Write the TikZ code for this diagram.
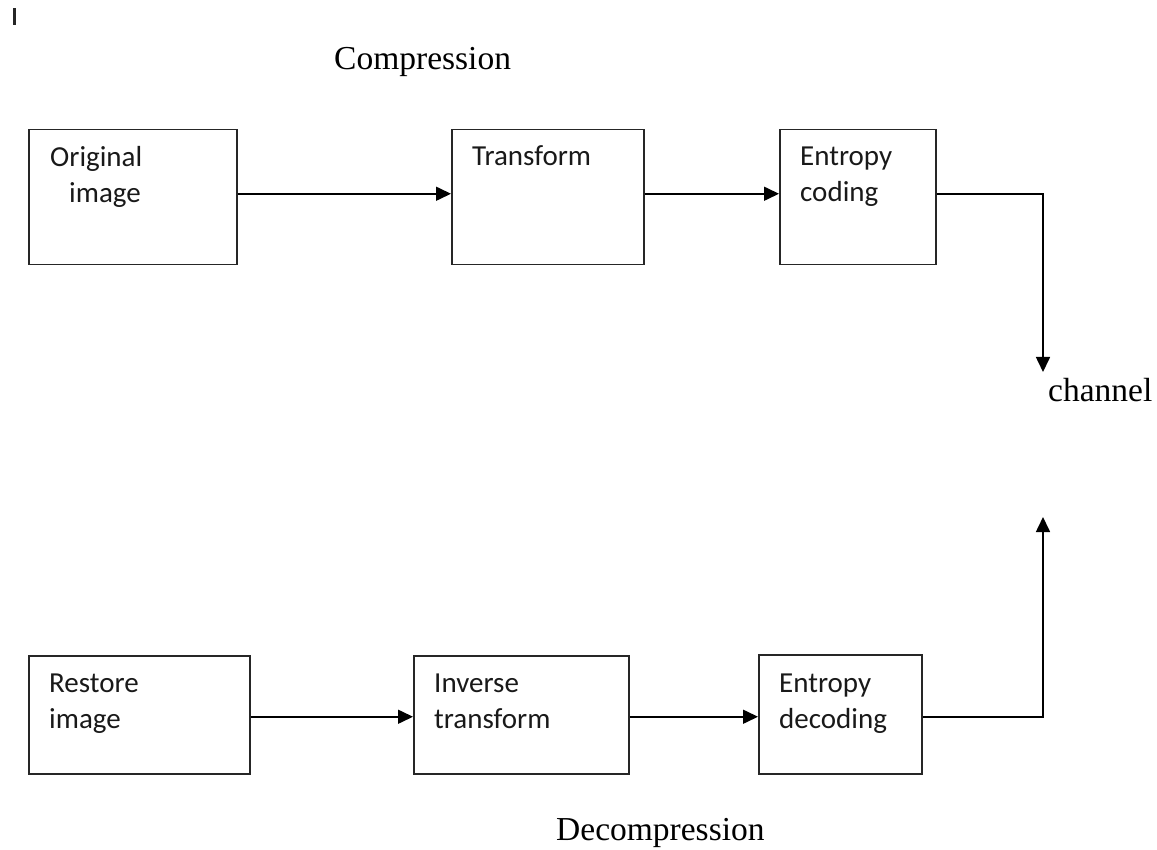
\documentclass[tikz,border=0pt]{standalone}
\usepackage{fontspec}
\setmainfont{Liberation Serif}
\newfontfamily\boxfont{Carlito}
\usetikzlibrary{arrows.meta}

\tikzset{
  blockbox/.style={draw=black!85, line width=1.5pt, minimum width=#1, inner sep=0pt, anchor=north west},
  boxtext/.style={anchor=base west, inner sep=0pt, font=\boxfont\fontsize{29}{36}\selectfont, text=black!90},
  title/.style={anchor=base west, inner sep=0pt, font=\fontsize{33.5}{40}\selectfont},
  flow/.style={draw=black, line width=1.6pt, -{Triangle[length=15pt,width=14pt]}}
}

\begin{document}
\begin{tikzpicture}[x=1pt,y=-1pt]
\useasboundingbox (0,0) rectangle (1157,850);

% small cursor mark in the corner
\fill[black!85] (12.5,8) rectangle (15.5,25);

% titles
\node[title] (tcomp) at (334,70) {Compression};
\node[title] (tdec) at (556,840) {Decompression};
\node[title] (tchan) at (1048,401) {channel};

% compression chain
\node[blockbox=208pt, minimum height=135pt] (orig) at (28,129) {};
\node[blockbox=192pt, minimum height=135pt] (trans) at (451,129) {};
\node[blockbox=156pt, minimum height=135pt] (ent) at (779,129) {};

\node[boxtext] (lorig1) at (50,167) {Original};
\node[boxtext] (lorig2) at (69,203) {image};
\node[boxtext] (ltrans) at (472,166) {Transform};
\node[boxtext] (lent1) at (800,166) {Entropy};
\node[boxtext] (lent2) at (800,202) {coding};

% decompression chain
\node[blockbox=221pt, minimum height=118pt] (rest) at (28,655) {};
\node[blockbox=215pt, minimum height=118pt] (inv) at (413,655) {};
\node[blockbox=163pt, minimum height=119pt] (entd) at (758,654) {};

\node[boxtext] (lrest1) at (49,692) {Restore};
\node[boxtext] (lrest2) at (49,728) {image};
\node[boxtext] (linv1) at (434,692) {Inverse};
\node[boxtext] (linv2) at (434,728) {transform};
\node[boxtext] (lentd1) at (779,692) {Entropy};
\node[boxtext] (lentd2) at (779,728) {decoding};

% channel ends
\coordinate (chin) at (1043,372);
\coordinate (chout) at (1043,517);

% connectors
\draw[flow] ([yshift=3.5pt]orig.east) -- ([yshift=3.5pt]trans.west);
\draw[flow] ([yshift=3.5pt]trans.east) -- ([yshift=3.5pt]ent.west);
\draw[flow] ([yshift=3.5pt]ent.east) -| (chin);

\draw[flow] ([yshift=-2pt]rest.east) -- ([yshift=-2pt]rest.east -| inv.west);
\draw[flow] ([yshift=-2pt]inv.east) -- ([yshift=-2pt]inv.east -| entd.west);
\draw[flow] ([yshift=-2pt]inv.east -| entd.east) -| (chout);
\end{tikzpicture}
\end{document}
